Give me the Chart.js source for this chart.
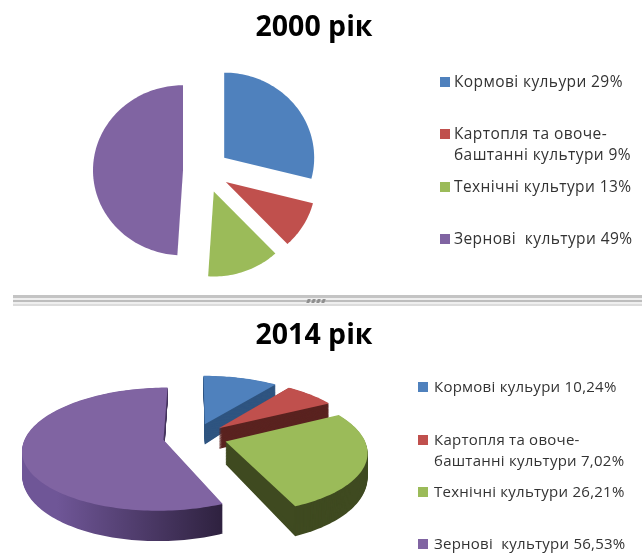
<!DOCTYPE html>
<html>
<head>
<meta charset="utf-8">
<script src="https://cdn.jsdelivr.net/npm/chart.js@4"></script>
<style>
  html, body { margin: 0; padding: 0; background: #fff; }
  #page { position: relative; width: 642px; height: 553px; overflow: hidden; filter: blur(0.4px); }
  canvas { position: absolute; }
  .title { position: absolute; width: 300px; text-align: center; font: bold 28.5px "Open Sans", sans-serif; color: #000; line-height: 32px; }
  .item { position: absolute; font-family: "Open Sans", sans-serif; color: #333; line-height: 21px; white-space: pre; }
  .box { position: absolute; width: 10px; height: 10px; }
  .sep { position: absolute; left: 13px; width: 629px; height: 2px; }
  .grip { position: absolute; top: 299px; width: 3px; height: 4px; background: #8f8f8f; transform: skewX(-20deg); }
</style>
</head>
<body>
<div id="page">
  <div class="sep" style="top:295px;height:3px;background:#c4c4c4"></div>
  <div class="sep" style="top:298px;background:#efefef"></div>
  <div class="sep" style="top:300px;background:#bdbdbd"></div>
  <div class="sep" style="top:302px;background:#efefef"></div>
  <div class="sep" style="top:304px;background:#dcdcdc"></div>
  <div class="grip" style="left:307px"></div>
  <div class="grip" style="left:312px"></div>
  <div class="grip" style="left:317px"></div>
  <div class="grip" style="left:322px"></div>
  <canvas id="pie2000"></canvas>
  <canvas id="pie2014"></canvas>
</div>
<script>
const titles = ['2000 рік', '2014 рік'];
const categories = ['Кормові кульури', 'Картопля та овоче-\nбаштанні культури', 'Технічні культури', 'Зернові  культури'];
const values2000 = [29, 9, 13, 49];
const values2014 = [10.24, 7.02, 26.21, 56.53];
const labels2000 = ['29%', '9%', '13%', '49%'];
const labels2014 = ['10,24%', '7,02%', '26,21%', '56,53%'];
const colors = ['#4f81bd', '#c0504d', '#9bbb59', '#8064a2'];
const wallColors = ['#2f5580', '#5a2320', '#3f4a20', null];

// arcs come from the pie controller, this only projects them: explode, tilt, perspective, side walls
const explodedPie = {
  id: 'explodedPie',
  beforeDatasetDraw(chart, args, opts) {
    const ctx = chart.ctx;
    const arcs = chart.getDatasetMeta(0).data;

    const slicePath = (arc, wallT) => {
      const mid = (arc.startAngle + arc.endAngle) / 2;
      const ox = Math.cos(mid) * opts.explode;
      const oy = Math.sin(mid) * opts.explode;
      const R = arc.outerRadius;
      const project = (x, y) => {
        const s = 1 / (1 - opts.persp * y / R);
        const wall = wallT * (opts.depth + opts.depthPersp * y / R);
        ctx.lineTo(arc.x + x * s, arc.y + y * s * opts.ky + wall);
      };
      ctx.beginPath();
      project(ox, oy);
      const steps = Math.ceil((arc.endAngle - arc.startAngle) * 40);
      for (let k = 0; k <= steps; k += 1) {
        const a = arc.startAngle + (arc.endAngle - arc.startAngle) * k / steps;
        project(ox + Math.cos(a) * R, oy + Math.sin(a) * R);
      }
      ctx.closePath();
    };

    arcs.forEach((arc, i) => {
      if (opts.depth) {
        let wall = wallColors[i];
        if (!wall) {
          wall = ctx.createLinearGradient(arc.x - arc.outerRadius, 0, arc.x + 25, 0);
          wall.addColorStop(0, '#6f5697');
          wall.addColorStop(1, '#2f2240');
        }
        ctx.fillStyle = wall;
        for (let d = opts.depth + opts.depthPersp; d >= 1; d -= 1) {
          slicePath(arc, d / (opts.depth + opts.depthPersp));
          ctx.fill();
        }
      }
      slicePath(arc, 0);
      ctx.fillStyle = colors[i];
      ctx.fill();
    });
    return false;
  },
};

function makePie(id, values, left, top, size, radius, pluginOpts) {
  const el = document.getElementById(id);
  el.width = size;
  el.height = size;
  el.style.width = size + 'px';
  el.style.height = size + 'px';
  el.style.left = left + 'px';
  el.style.top = top + 'px';
  return new Chart(el, {
    type: 'pie',
    data: {
      labels: categories,
      datasets: [{ data: values, backgroundColor: colors, borderWidth: 0, hoverOffset: 0 }],
    },
    options: {
      responsive: false,
      animation: false,
      radius,
      events: [],
      plugins: {
        legend: { display: false },
        tooltip: { enabled: false },
        explodedPie: pluginOpts,
      },
    },
    plugins: [explodedPie],
  });
}

function addTitle(text, centerX, top) {
  const d = document.createElement('div');
  d.className = 'title';
  d.textContent = text;
  d.style.left = (centerX - 150) + 'px';
  d.style.top = top + 'px';
  document.getElementById('page').appendChild(d);
}

function addLegend(labels, boxX, textX, rows, fontSize, spacing) {
  const page = document.getElementById('page');
  categories.forEach((cat, i) => {
    const box = document.createElement('div');
    box.className = 'box';
    box.style.background = colors[i];
    box.style.left = boxX + 'px';
    box.style.top = (rows[i] - 5) + 'px';
    page.appendChild(box);
    const item = document.createElement('div');
    item.className = 'item';
    item.textContent = cat + ' ' + labels[i];
    item.style.left = textX + 'px';
    item.style.top = (rows[i] - 11) + 'px';
    item.style.fontSize = fontSize + 'px';
    item.style.letterSpacing = spacing + 'px';
    page.appendChild(item);
  });
}

makePie('pie2000', values2000, 66, 31, 280, 90, { explode: 23, ky: 0.945, persp: 0, depth: 0, depthPersp: 0 });
makePie('pie2014', values2014, 15, 257, 360, 138, { explode: 32, ky: 0.43, persp: 0.15, depth: 22, depthPersp: 8 });

addTitle(titles[0], 314, 9);
addTitle(titles[1], 314, 317);
addLegend(labels2000, 440, 454, [82, 134, 187, 239], 15.5, 0.4);
addLegend(labels2014, 418, 434, [387, 440, 492, 544], 15, 0.25);
</script>
</body>
</html>
